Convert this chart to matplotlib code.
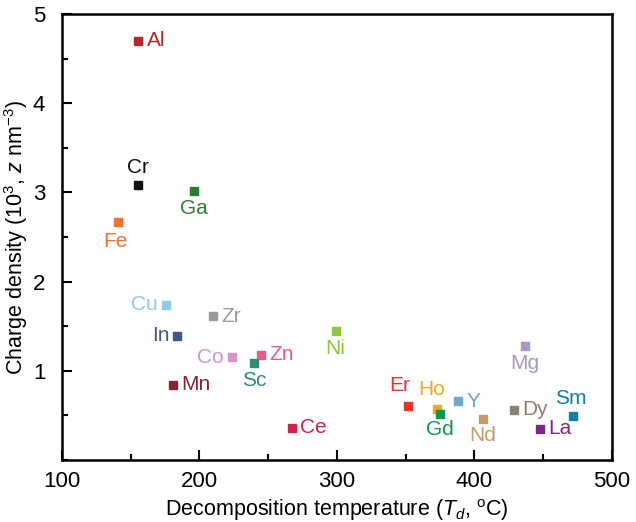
import matplotlib
matplotlib.use("Agg")
import matplotlib.pyplot as plt
from matplotlib.ticker import MultipleLocator

elements = ["Al", "Cr", "Ga", "Fe", "Cu", "Zr", "In", "Ni", "Co", "Zn", "Sc", "Mn",
            "Ce", "Er", "Ho", "Gd", "Y", "Nd", "Dy", "Mg", "Sm", "La"]
temps = [155, 155, 196, 141, 176, 210, 184, 299, 224, 245, 240, 181,
         267, 352, 373, 375, 388, 406, 429, 437, 472, 448]
charge = [4.70, 3.08, 3.02, 2.67, 1.74, 1.61, 1.39, 1.45, 1.15, 1.18, 1.09, 0.84,
          0.36, 0.60, 0.57, 0.52, 0.66, 0.46, 0.56, 1.28, 0.49, 0.35]
colors = ["#b2292e", "#111111", "#2a7d34", "#f07030", "#8ccbee", "#9a9a9a", "#3d5a8a",
          "#8dc63f", "#d596c8", "#ea5a8a", "#2e8b7a", "#8b2232", "#d4204a", "#e8302e",
          "#f5a623", "#0a9a4a", "#6fa8c8", "#c89a6a", "#8a8070", "#a898c8", "#1080a8",
          "#7a2a80"]
# label offsets (points) and alignment
offsets = {
    "Al": (7, 0, "left", "center"), "Cr": (0, 6, "center", "bottom"),
    "Ga": (0, -6, "center", "top"), "Fe": (-2, -7, "center", "top"),
    "Cu": (-6, 0, "right", "center"), "Zr": (6, 0, "left", "center"),
    "In": (-6, 0, "right", "center"), "Ni": (0, -6, "center", "top"),
    "Co": (-6, 0, "right", "center"), "Zn": (6, 0, "left", "center"),
    "Sc": (0, -6, "center", "top"), "Mn": (6, 0, "left", "center"),
    "Ce": (6, 0, "left", "center"), "Er": (-6, 8, "center", "bottom"),
    "Ho": (-4, 7, "center", "bottom"), "Gd": (0, -5, "center", "top"),
    "Y": (6, 0, "left", "center"), "Nd": (0, -5, "center", "top"),
    "Dy": (6, 0, "left", "center"), "Mg": (0, -6, "center", "top"),
    "Sm": (-2, 6, "center", "bottom"), "La": (6, 0, "left", "center"),
}

plt.rcParams["font.family"] = ["Liberation Sans", "DejaVu Sans"]
plt.rcParams["mathtext.fontset"] = "custom"
plt.rcParams["mathtext.rm"] = "Liberation Sans"
plt.rcParams["mathtext.it"] = "Liberation Sans:italic"
fig = plt.figure(figsize=(6.36, 5.22), dpi=100)
ax = fig.add_axes([0.0975, 0.119, 0.8645, 0.854])

for el, t, c, col in zip(elements, temps, charge, colors):
    ax.plot(t, c, marker="s", markersize=6, color=col, linestyle="none")
    dx, dy, ha, va = offsets[el]
    ax.annotate(el, (t, c), xytext=(dx, dy), textcoords="offset points",
                ha=ha, va=va, color=col, fontsize=15)

ax.set_xlim(100, 500)
ax.set_ylim(0, 5)
ax.xaxis.set_major_locator(MultipleLocator(100))
ax.xaxis.set_minor_locator(MultipleLocator(50))
ax.yaxis.set_major_locator(MultipleLocator(1))
ax.yaxis.set_minor_locator(MultipleLocator(0.5))
ax.set_yticks([1, 2, 3, 4, 5])
ax.tick_params(which="both", direction="in", width=1.5, labelsize=16)
ax.tick_params(which="major", length=7)
ax.tick_params(which="minor", length=4)
ax.tick_params(axis="x", pad=8)
ax.tick_params(axis="y", pad=12)
for s in ax.spines.values():
    s.set_linewidth(1.8)

ax.set_xlabel(r"Decomposition temperature ($T_d$, $^{\rm o}$C)", fontsize=15.5, labelpad=4)
ax.set_ylabel(r"Charge density (10$^3$, $z$ nm$^{-3}$)", fontsize=15.5, labelpad=2)

fig.savefig("out.png", dpi=100)
